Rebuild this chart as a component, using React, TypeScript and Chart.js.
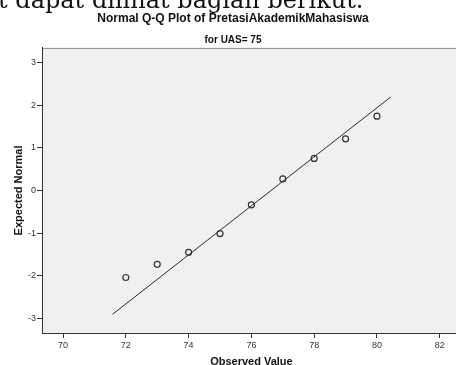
import React, { useEffect, useRef } from "react";
import { Chart, registerables } from "chart.js";

Chart.register(...registerables);

const observedValues = [72, 73, 74, 75, 76, 77, 78, 79, 80];
const expectedNormal = [-2.04, -1.73, -1.45, -1.01, -0.34, 0.27, 0.75, 1.21, 1.74];
const lineX = [71.58, 80.44];
const lineY = [-2.9, 2.19];
const xTicks = [70, 72, 74, 76, 78, 80, 82];
const yTicks = [-3, -2, -1, 0, 1, 2, 3];
const xRange = [69.33, 82.67];
const yRange = [-3.34, 3.34];

const chartTitle = "Normal Q-Q Plot of PretasiAkademikMahasiswa";
const chartSubtitle = "for UAS= 75";
const xTitle = "Observed Value";
const yTitle = "Expected Normal";
const docText = "t dapat dilihat bagian berikut.";

const plotFrame = {
  id: "plotFrame",
  beforeDraw(chart: any) {
    const { ctx, chartArea } = chart;
    ctx.save();
    ctx.fillStyle = "#f0f0f0";
    ctx.fillRect(chartArea.left, chartArea.top, chartArea.right - chartArea.left, chartArea.bottom - chartArea.top);
    ctx.strokeStyle = "#8a8a8a";
    ctx.lineWidth = 1;
    ctx.beginPath();
    ctx.moveTo(chartArea.left, chartArea.top + 0.5);
    ctx.lineTo(chartArea.right, chartArea.top + 0.5);
    ctx.stroke();
    ctx.restore();
  },
};

export default function App() {
  const ref = useRef<HTMLCanvasElement>(null);
  useEffect(() => {
    if (!ref.current) return;
    const points = observedValues.map((x, i) => ({ x, y: expectedNormal[i] }));
    const line = lineX.map((x, i) => ({ x, y: lineY[i] }));
    const chart = new Chart(ref.current, {
      type: "scatter",
      data: {
        datasets: [
          {
            type: "line",
            data: line,
            borderColor: "#2b2b2b",
            borderWidth: 1,
            pointRadius: 0,
            showLine: true,
            fill: false,
          } as any,
          {
            data: points,
            pointStyle: "circle",
            pointRadius: 3,
            pointBorderWidth: 1.2,
            pointBorderColor: "#333333",
            pointBackgroundColor: "rgba(0,0,0,0)",
          },
        ],
      },
      options: {
        animation: false,
        responsive: false,
        devicePixelRatio: 1,
        layout: { padding: { left: 0, right: 0, top: 0, bottom: 0 } },
        plugins: {
          legend: { display: false },
          tooltip: { enabled: false },
          title: {
            display: true,
            text: chartTitle,
            color: "#111",
            font: { family: "Liberation Sans, Arial", size: 12, weight: "bold" },
            padding: { top: 11.5, bottom: 0 },
          },
          subtitle: {
            display: true,
            text: chartSubtitle,
            color: "#111",
            font: { family: "Liberation Sans, Arial", size: 10, weight: "bold" },
            padding: { top: 8, bottom: 2 },
          },
        },
        scales: {
          x: {
            type: "linear",
            min: xRange[0],
            max: xRange[1],
            afterBuildTicks: (s: any) => {
              s.ticks = xTicks.map((v) => ({ value: v }));
            },
            afterFit: (s: any) => {
              s.height = 35;
            },
            grid: { drawOnChartArea: false, drawTicks: true, tickLength: 5, color: "#333" },
            border: { display: true, color: "#333", width: 1 },
            ticks: {
              color: "#333",
              font: { family: "Liberation Sans, Arial", size: 9 },
              padding: 2,
              maxRotation: 0,
              callback: (v: any) => String(v),
            },
            title: {
              display: true,
              text: xTitle,
              color: "#111",
              font: { family: "Liberation Sans, Arial", size: 11, weight: "bold" },
              padding: { top: 0, bottom: -1 },
            },
          },
          y: {
            type: "linear",
            min: yRange[0],
            max: yRange[1],
            afterBuildTicks: (s: any) => {
              s.ticks = yTicks.map((v) => ({ value: v }));
            },
            afterFit: (s: any) => {
              s.width = 42;
            },
            grid: { drawOnChartArea: false, drawTicks: true, tickLength: 5, color: "#333" },
            border: { display: true, color: "#333", width: 1 },
            ticks: {
              color: "#333",
              font: { family: "Liberation Sans, Arial", size: 9 },
              padding: 1,
              callback: (v: any) => String(v),
            },
            title: {
              display: true,
              text: yTitle,
              color: "#111",
              font: { family: "Liberation Sans, Arial", size: 11, weight: "bold" },
              padding: { top: 12, bottom: 0 },
            },
          },
        },
      },
      plugins: [plotFrame],
    });
    return () => chart.destroy();
  }, []);

  return (
    <div style={{ position: "absolute", left: 0, top: 0, width: 456, height: 365, overflow: "hidden", background: "#fff" }}>
      <canvas ref={ref} width={466} height={368} style={{ position: "absolute", left: 0, top: 0, width: 466, height: 368 }} />
      <div
        style={{
          position: "absolute",
          left: -2,
          top: -12,
          fontFamily: "DejaVu Serif",
          fontSize: 24,
          lineHeight: "24px",
          whiteSpace: "nowrap",
          color: "#111",
        }}
      >
        {docText}
      </div>
    </div>
  );
}
